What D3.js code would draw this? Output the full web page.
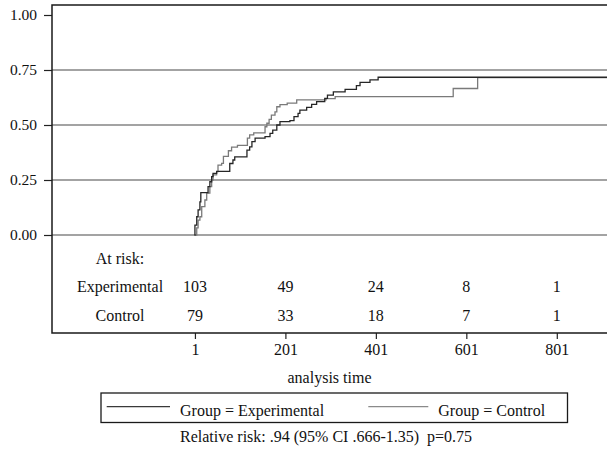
<!DOCTYPE html>
<html>
<head>
<meta charset="utf-8">
<script src="https://cdn.jsdelivr.net/npm/d3@7"></script>
<style>
  body { margin: 0; background: #fff; }
  svg text { font-family: 'Liberation Serif', Tinos, 'Times New Roman', Times, 'DejaVu Serif', serif; fill: #111; }
</style>
</head>
<body>
<div id="chart"></div>
<script>
// Kaplan-Meier style failure curves
const groups = ["Experimental", "Control"];

const expTimes = [0, 1, 5, 8, 12, 14, 30, 34, 38, 41, 49, 78, 85, 89, 116, 122, 127, 134, 156, 167, 173, 182, 189, 211, 220, 229, 233, 248, 259, 270, 288, 294, 307, 333, 358, 366, 388, 406];
const expFail  = [0, 0.045, 0.083, 0.114, 0.151, 0.193, 0.220, 0.242, 0.265, 0.280, 0.289, 0.325, 0.341, 0.355, 0.386, 0.401, 0.424, 0.440, 0.447, 0.462, 0.477, 0.500, 0.515, 0.520, 0.538, 0.553, 0.568, 0.580, 0.594, 0.606, 0.621, 0.636, 0.651, 0.662, 0.679, 0.694, 0.705, 0.717];

const ctlTimes = [0, 5, 8, 12, 16, 23, 27, 34, 38, 41, 49, 52, 60, 64, 75, 82, 95, 117, 122, 131, 156, 160, 165, 170, 178, 182, 189, 205, 226, 291, 311, 572, 626];
const ctlFail  = [0, 0.032, 0.068, 0.083, 0.129, 0.159, 0.190, 0.220, 0.250, 0.273, 0.288, 0.318, 0.326, 0.357, 0.383, 0.399, 0.407, 0.440, 0.455, 0.464, 0.492, 0.508, 0.526, 0.545, 0.560, 0.583, 0.593, 0.599, 0.614, 0.620, 0.629, 0.666, 0.715];

const lastTime = 912;

const yTicks = [0, 0.25, 0.5, 0.75, 1];
const gridTicks = [0, 0.25, 0.5, 0.75];
const riskTimes = [1, 201, 401, 601, 801];
const expAtRisk = [103, 49, 24, 8, 1];
const ctlAtRisk = [79, 33, 18, 7, 1];

const relRiskNote = "Relative risk: .94 (95% CI .666-1.35)  p=0.75";

const FONT = "'Liberation Serif', Tinos, 'Times New Roman', Times, 'DejaVu Serif', serif";
const W = 607, H = 449;
const box = { left: 52, top: 5, right: 607, bottom: 333 };

let svg = d3.select('#chart').append('svg')
    .attr('width', W)
    .attr('height', H)
    .attr('font-family', FONT);

let x = d3.scaleLinear().domain([-315, lastTime]).range([box.left, box.right]);
let y = d3.scaleLinear().domain([0, 1]).range([235, 15]);

// grid lines
svg.append('g')
    .selectAll('line')
    .data(gridTicks)
    .join('line')
    .attr('x1', box.left).attr('x2', box.right)
    .attr('y1', d => y(d)).attr('y2', d => y(d))
    .attr('stroke', '#858585')
    .attr('stroke-width', 1.4);

// y axis
let yAxis = d3.axisLeft(y)
    .tickValues(yTicks)
    .tickFormat(d3.format('.2f'))
    .tickSize(8)
    .tickPadding(7);
let gy = svg.append('g')
    .attr('transform', `translate(${box.left},0)`)
    .call(yAxis)
    .attr('font-family', FONT);
gy.select('.domain').remove();
gy.selectAll('.tick line').attr('stroke', '#222').attr('stroke-width', 1.2);
gy.selectAll('.tick text')
    .style('font-family', FONT)
    .style('font-size', '15.5px')
    .attr('fill', '#111');

// x axis below the at-risk table
let xAxis = d3.axisBottom(x)
    .tickValues(riskTimes)
    .tickFormat(d3.format('d'))
    .tickSize(6)
    .tickPadding(5);
let gx = svg.append('g')
    .attr('transform', `translate(0,${box.bottom})`)
    .call(xAxis)
    .attr('font-family', FONT);
gx.select('.domain').remove();
gx.selectAll('.tick line').attr('stroke', '#222').attr('stroke-width', 1.2);
gx.selectAll('.tick text')
    .style('font-family', FONT)
    .style('font-size', '16px')
    .attr('fill', '#111');

// curves
let line = d3.line()
    .x(d => x(d[0]))
    .y(d => y(d[1]))
    .curve(d3.curveStepAfter);

function series(times, vals) {
    let pts = times.map((t, i) => [t, vals[i]]);
    pts.push([lastTime, vals[vals.length - 1]]);
    return pts;
}

svg.append('path')
    .datum(series(ctlTimes, ctlFail))
    .attr('d', line)
    .attr('fill', 'none')
    .attr('stroke', '#7a7a7a')
    .attr('stroke-width', 1.3);

svg.append('path')
    .datum(series(expTimes, expFail))
    .attr('d', line)
    .attr('fill', 'none')
    .attr('stroke', '#262626')
    .attr('stroke-width', 1.3);

// plot frame (top, left, bottom)
svg.append('path')
    .attr('d', `M${box.right},${box.top}H${box.left}V${box.bottom}H${box.right}`)
    .attr('fill', 'none')
    .attr('stroke', '#1a1a1a')
    .attr('stroke-width', 1.5);

// at-risk table
const labelX = 120;
let risk = svg.append('g').style('font-size', '16px');
risk.append('text')
    .attr('x', labelX).attr('y', 258.5).attr('dy', '0.35em')
    .attr('text-anchor', 'middle')
    .text('At risk:');

let rows = [
    { name: groups[0], counts: expAtRisk, yy: 286.7 },
    { name: groups[1], counts: ctlAtRisk, yy: 315 }
];
rows.forEach(r => {
    risk.append('text')
        .attr('x', labelX).attr('y', r.yy).attr('dy', '0.35em')
        .attr('text-anchor', 'middle')
        .text(r.name);
    risk.selectAll(null)
        .data(r.counts)
        .join('text')
        .attr('x', (d, i) => x(riskTimes[i]))
        .attr('y', r.yy).attr('dy', '0.35em')
        .attr('text-anchor', 'middle')
        .text(d => d);
});

// x title
svg.append('text')
    .attr('x', (box.left + box.right) / 2).attr('y', 377).attr('dy', '0.35em')
    .attr('text-anchor', 'middle')
    .style('font-size', '16px')
    .text('analysis time');

// legend
let legend = svg.append('g');
legend.append('rect')
    .attr('x', 101).attr('y', 393)
    .attr('width', 466.5).attr('height', 29.5)
    .attr('fill', 'none')
    .attr('stroke', '#1a1a1a')
    .attr('stroke-width', 1.3);

let legItems = [
    { name: groups[0], color: '#3a3a3a', x0: 106.7, x1: 170, tx: 180 },
    { name: groups[1], color: '#8a8a8a', x0: 368.3, x1: 428.3, tx: 438.3 }
];
legItems.forEach(it => {
    legend.append('line')
        .attr('x1', it.x0).attr('x2', it.x1)
        .attr('y1', 406.7).attr('y2', 406.7)
        .attr('stroke', it.color)
        .attr('stroke-width', 1.3);
    legend.append('text')
        .attr('x', it.tx).attr('y', 410).attr('dy', '0.35em')
        .style('font-size', '16px')
        .text('Group = ' + it.name);
});

// note
svg.append('text')
    .attr('x', 180).attr('y', 436).attr('dy', '0.35em')
    .style('font-size', '16px')
    .style('white-space', 'pre')
    .text(relRiskNote);
</script>
</body>
</html>
